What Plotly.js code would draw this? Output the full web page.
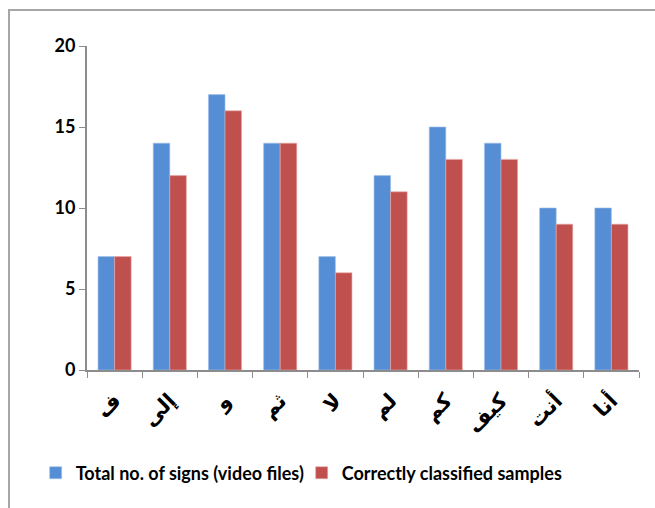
<!DOCTYPE html>
<html>
<head>
<meta charset="utf-8">
<script src="https://cdn.plot.ly/plotly-3.0.1.min.js"></script>
<style>
html,body{margin:0;padding:0;background:#fff;}
#wrap{position:relative;width:655px;height:508px;overflow:hidden;}
#frame{position:absolute;left:8px;top:9px;width:700px;height:560px;border:2px solid #a6a6a6;box-sizing:border-box;pointer-events:none;}
#chart{position:absolute;left:0;top:0;width:655px;height:508px;}
</style>
</head>
<body>
<div id="wrap">
<div id="chart"></div>
<div id="frame"></div>
</div>
<script>
var categories = ["ف", "إلى", "و", "ثم", "لا", "لم", "كم", "كيف", "أنت", "أنا"];
var totalSigns = [7, 14, 17, 14, 7, 12, 15, 14, 10, 10];
var correctlyClassified = [7, 12, 16, 14, 6, 11, 13, 13, 9, 9];
var yTicks = [0, 5, 10, 15, 20];

var traces = [
  {type: 'bar', name: 'Total no. of signs (video files)', x: categories, y: totalSigns,
   marker: {color: '#558ed5', line: {color: '#9fc0ea', width: 0.6}}},
  {type: 'bar', name: 'Correctly classified samples', x: categories, y: correctlyClassified,
   marker: {color: '#c0504d', line: {color: '#e8a8a6', width: 0.6}}}
];

var layout = {
  width: 655, height: 508,
  margin: {l: 87, r: 16, t: 46, b: 138},
  paper_bgcolor: '#ffffff', plot_bgcolor: '#ffffff',
  barmode: 'group', bargap: 0.4, bargroupgap: 0,
  showlegend: true,
  legend: {orientation: 'h', x: -0.093, xanchor: 'left', y: -0.318, yanchor: 'middle',
           font: {family: 'Lato, sans-serif', size: 18, color: '#000', weight: 'bold'}, itemwidth: 30,
           entrywidth: 221, traceorder: 'normal'},
  xaxis: {
    type: 'category', tickangle: -45, ticks: 'outside', ticklen: 6, tickcolor: '#8c8c8c',
    tickson: 'boundaries', showline: true, linecolor: '#8c8c8c', linewidth: 2,
    showgrid: false, zeroline: false, ticklabelstandoff: 8,
    tickfont: {family: 'DejaVu Sans, sans-serif', size: 21, color: '#000', weight: 'bold'}
  },
  yaxis: {
    range: [0, 20], tickvals: yTicks, ticktext: yTicks.map(String),
    ticks: 'outside', ticklen: 6, tickcolor: '#8c8c8c', showline: true, linecolor: '#8c8c8c', linewidth: 2,
    showgrid: false, zeroline: false,
    tickfont: {family: 'Lato, sans-serif', size: 18, color: '#000', weight: 'bold'}
  }
};
Plotly.newPlot('chart', traces, layout, {displayModeBar: false, staticPlot: true});
</script>
</body>
</html>
